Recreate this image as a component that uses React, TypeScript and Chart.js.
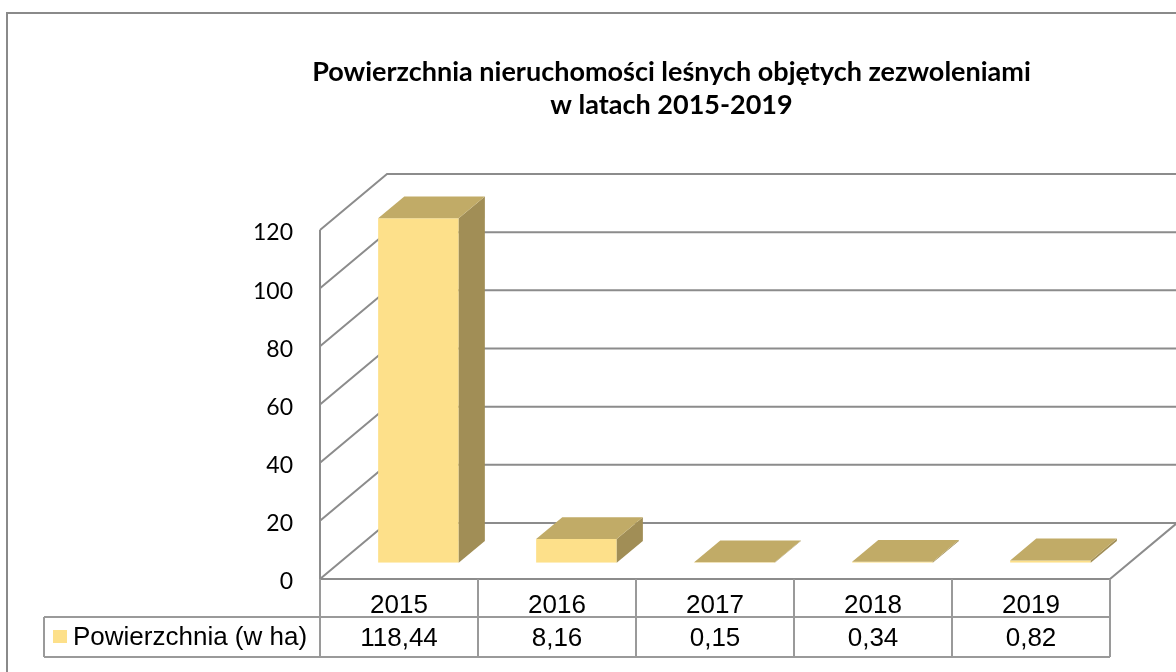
import React, { useEffect, useRef } from "react";
import { Chart, registerables } from "chart.js";

Chart.register(...registerables);

// ---- data ----
const categories = ["2015", "2016", "2017", "2018", "2019"];
const seriesName = "Powierzchnia (w ha)";
const values = [118.44, 8.16, 0.15, 0.34, 0.82];
const valueLabels = values.map((v) => v.toFixed(2).replace(".", ","));
const yTicks = [0, 20, 40, 60, 80, 100, 120];
const titleLines = [
  "Powierzchnia nieruchomości leśnych objętych zezwoleniami",
  "w latach 2015-2019",
];

// ---- styles ----
const FRONT = "#FDE08A";
const TOP = "#C1AB67";
const SIDE = "#A18E56";
const GRID = "#8C8C8C";
const TABLE = "#9A9A9A";
const FRAME = "#8A8A8A";
const DX = 67;
const DY = -56;
const F0 = 0.29;
const F1 = 0.68;
const TITLE_FONT = "Lato";
const TICK_FONT = "Lato";
const TABLE_FONT = "'Liberation Sans', Arial, sans-serif";

const threeD = {
  id: "threeD",
  beforeDatasetsDraw(chart: any) {
    const { ctx, chartArea: a } = chart;
    const y = chart.scales.y;
    ctx.save();
    ctx.strokeStyle = FRAME;
    ctx.lineWidth = 2;
    ctx.beginPath();
    ctx.moveTo(7, chart.height + 10);
    ctx.lineTo(7, 13);
    ctx.lineTo(chart.width + 10, 13);
    ctx.stroke();

    ctx.strokeStyle = GRID;
    ctx.lineWidth = 2;
    ctx.beginPath();
    ctx.moveTo(a.left, a.bottom);
    ctx.lineTo(a.left, a.top);
    y.ticks.forEach((t: any) => {
      const py = y.getPixelForValue(t.value);
      ctx.moveTo(a.left, py);
      ctx.lineTo(a.left + DX, py + DY);
      ctx.lineTo(a.right + DX + 20, py + DY);
    });
    ctx.moveTo(a.right, a.bottom);
    ctx.lineTo(a.right + DX, a.bottom + DY);
    ctx.moveTo(a.left, a.bottom);
    ctx.lineTo(a.right, a.bottom);
    ctx.stroke();
    ctx.restore();

    ctx.save();
    ctx.translate(F0 * DX, F0 * DY);
  },
  afterDatasetsDraw(chart: any) {
    const ctx = chart.ctx;
    const meta = chart.getDatasetMeta(0);
    const ddx = (F1 - F0) * DX;
    const ddy = (F1 - F0) * DY;
    meta.data.forEach((bar: any) => {
      const { x, y, base, width } = bar.getProps(["x", "y", "base", "width"], true);
      const l = x - width / 2;
      const r = x + width / 2;
      ctx.fillStyle = SIDE;
      ctx.beginPath();
      ctx.moveTo(r, y);
      ctx.lineTo(r + ddx, y + ddy);
      ctx.lineTo(r + ddx, base + ddy);
      ctx.lineTo(r, base);
      ctx.closePath();
      ctx.fill();
      ctx.fillStyle = TOP;
      ctx.beginPath();
      ctx.moveTo(l, y);
      ctx.lineTo(r, y);
      ctx.lineTo(r + ddx, y + ddy);
      ctx.lineTo(l + ddx, y + ddy);
      ctx.closePath();
      ctx.fill();
    });
    ctx.restore();
  },
  afterDraw(chart: any) {
    const { ctx, chartArea: a } = chart;
    const xs = chart.scales.x;
    const half = (xs.getPixelForValue(1) - xs.getPixelForValue(0)) / 2;
    const row1 = a.bottom + 38;
    const row2 = a.bottom + 78;
    const legendLeft = 44;
    ctx.save();
    ctx.strokeStyle = TABLE;
    ctx.lineWidth = 2;
    ctx.beginPath();
    ctx.moveTo(a.left, a.bottom);
    ctx.lineTo(a.left, row2);
    categories.forEach((_, i) => {
      const xr = xs.getPixelForValue(i) + half;
      ctx.moveTo(xr, a.bottom);
      ctx.lineTo(xr, row2);
    });
    ctx.moveTo(legendLeft, row1);
    ctx.lineTo(a.right, row1);
    ctx.moveTo(legendLeft, row2);
    ctx.lineTo(a.right, row2);
    ctx.moveTo(legendLeft, row1);
    ctx.lineTo(legendLeft, row2);
    ctx.stroke();

    ctx.fillStyle = "#000";
    ctx.font = `26px ${TABLE_FONT}`;
    ctx.textAlign = "center";
    ctx.textBaseline = "alphabetic";
    categories.forEach((c, i) => {
      const cx = xs.getPixelForValue(i);
      ctx.fillText(c, cx, a.bottom + 34);
      ctx.fillText(valueLabels[i], cx, row1 + 29);
    });
    ctx.fillStyle = FRONT;
    ctx.fillRect(legendLeft + 9, row1 + 13, 14, 13);
    ctx.fillStyle = "#000";
    ctx.textAlign = "left";
    ctx.fillText(seriesName, legendLeft + 29, row1 + 28);
    ctx.restore();
  },
};

export default function App() {
  const ref = useRef<HTMLCanvasElement | null>(null);
  useEffect(() => {
    document.body.style.margin = "0";
    const canvas = ref.current;
    if (!canvas) return;
    const chart = new Chart(canvas, {
      type: "bar",
      data: {
        labels: categories,
        datasets: [
          {
            label: seriesName,
            data: values,
            backgroundColor: FRONT,
            borderWidth: 0,
            categoryPercentage: 1,
            barPercentage: 0.51,
          },
        ],
      },
      options: {
        responsive: false,
        animation: false,
        layout: { padding: { left: 233, right: 66, top: 0, bottom: 93 } },
        plugins: {
          legend: { display: false },
          tooltip: { enabled: false },
          title: {
            display: true,
            text: titleLines,
            color: "#000",
            font: { family: TITLE_FONT, size: 27, weight: "bold", lineHeight: 1.222 },
            padding: { top: 56, bottom: 108 },
          },
        },
        scales: {
          x: { display: false },
          y: {
            min: yTicks[0],
            max: yTicks[yTicks.length - 1],
            ticks: {
              stepSize: yTicks[1] - yTicks[0],
              color: "#000",
              font: { family: TICK_FONT, size: 23 },
              padding: 27,
              labelOffset: 3,
            },
            grid: { display: false, drawTicks: false },
            border: { display: false },
            afterFit: (s: any) => {
              s.width = 87;
            },
          },
        },
      },
      plugins: [threeD],
    });
    return () => chart.destroy();
  }, []);
  return (
    <div style={{ position: "fixed", left: 0, top: 0, width: 1176, height: 672, background: "#fff" }}>
      <canvas ref={ref} width={1176} height={672} />
    </div>
  );
}
